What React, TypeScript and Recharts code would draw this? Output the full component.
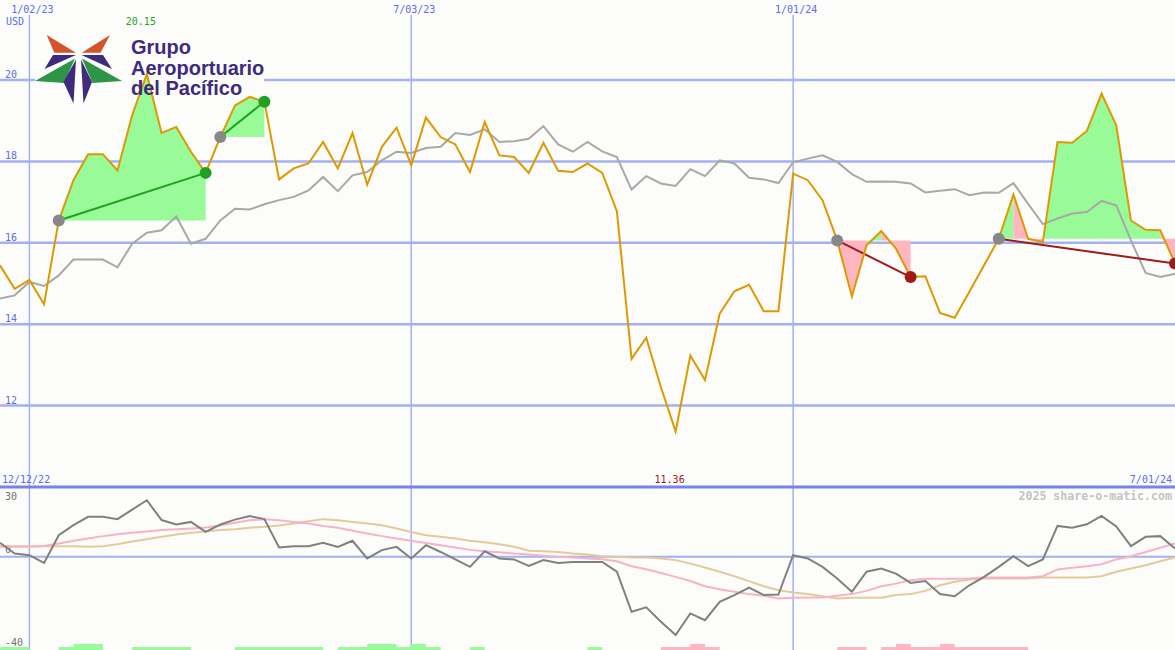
import React from 'react';
import {
  ComposedChart,
  Line,
  Area,
  XAxis,
  YAxis,
  ReferenceLine,
  ReferenceDot,
} from 'recharts';

// ---------------- data ----------------
const xTickIdx = [2, 28, 54];
const xTickLabels = ['1/02/23', '7/03/23', '1/01/24'];
const priceTicks = [12, 14, 16, 18, 20];
const subTicks = [-40, 0, 30];
const rangeStartLabel = '12/12/22';
const rangeEndLabel = '7/01/24';
const currencyLabel = 'USD';
const companyName = ['Grupo', 'Aeroportuario', 'del Pacífico'];
const copyright = '2025 share-o-matic.com';

// weekly closing price (orange)
const price = [
  15.45, 14.87, 15.09, 14.49, 16.55, 17.54, 18.18, 18.18, 17.78, 19.14,
  20.15, 18.7, 18.85, 18.24, 17.72, 18.6, 19.38, 19.59, 19.47, 17.56,
  17.83, 17.95, 18.48, 17.83, 18.7, 17.43, 18.36, 18.83, 17.91, 19.08,
  18.6, 18.42, 17.74, 18.97, 18.15, 18.11, 17.72, 18.46, 17.77, 17.74,
  17.95, 17.72, 16.78, 13.15, 13.67, 12.45, 11.36, 13.23, 12.63, 14.26,
  14.81, 14.97, 14.32, 14.32, 17.7, 17.54, 17.05, 16.06, 14.68, 15.94,
  16.29, 15.86, 15.16, 15.18, 14.28, 14.16, 14.8, 15.45, 16.1, 17.19,
  16.1, 16.02, 18.48, 18.46, 18.75, 19.67, 18.89, 16.55, 16.32, 16.31,
  15.49,
];

// comparison line (grey)
const refLine = [
  14.63, 14.71, 15.04, 14.94, 15.2, 15.59, 15.59, 15.59, 15.4, 15.98,
  16.25, 16.31, 16.65, 15.98, 16.1, 16.55, 16.84, 16.82, 16.95, 17.05,
  17.13, 17.29, 17.62, 17.27, 17.66, 17.74, 18.03, 18.24, 18.21, 18.33,
  18.36, 18.7, 18.65, 18.79, 18.48, 18.5, 18.56, 18.87, 18.42, 18.24,
  18.48, 18.25, 18.11, 17.31, 17.64, 17.46, 17.4, 17.81, 17.64, 18.03,
  17.95, 17.6, 17.56, 17.47, 17.98, 18.07, 18.15, 17.99, 17.69, 17.5,
  17.51, 17.5, 17.46, 17.24, 17.28, 17.32, 17.17, 17.24, 17.23, 17.47,
  16.96, 16.46, 16.6, 16.72, 16.76, 17.03, 16.92, 16.06, 15.26, 15.16,
  15.24,
];

// lower panel: momentum (dark grey)
const momentum = [
  6.0, 1.4, 0.7, -2.6, 9.3, 13.6, 17.2, 17.2, 16.2, 20.3,
  24.3, 15.8, 13.9, 15.0, 10.7, 13.9, 16.0, 17.5, 16.2, 4.0,
  4.6, 4.6, 6.0, 4.3, 6.9, -0.7, 2.9, 4.3, -0.7, 5.0,
  2.1, -1.1, -4.3, 2.4, -0.7, -1.1, -3.9, -1.4, -2.6, -2.2,
  -2.2, -2.2, -6.4, -23.6, -21.7, -27.9, -33.6, -24.3, -27.2, -19.3,
  -16.4, -13.2, -16.4, -16.2, 0.7, -0.7, -4.3, -9.3, -15.0, -6.4,
  -5.0, -7.2, -11.2, -10.4, -16.0, -16.9, -12.2, -8.6, -4.3, 0.3,
  -4.0, -1.1, 13.3, 12.5, 14.0, 17.6, 13.1, 4.6, 8.6, 8.9,
  3.6,
];

// lower panel: fast average (pink)
const maFast = [
  4.3, 4.3, 4.3, 4.7, 5.7, 6.9, 7.9, 8.9, 9.7, 10.4,
  10.9, 11.5, 11.9, 12.2, 12.6, 13.5, 14.6, 15.7, 16.2, 15.7,
  15.0, 14.3, 13.3, 12.5, 11.2, 10.0, 8.9, 7.9, 6.9, 6.0,
  5.0, 4.0, 3.0, 2.4, 2.0, 1.4, 1.0, 0.5, 0.0, -0.3,
  -0.7, -1.0, -1.9, -4.0, -5.3, -6.9, -8.6, -10.4, -12.6, -13.9,
  -15.0, -16.0, -16.7, -17.9, -17.6, -17.5, -17.5, -16.7, -16.0, -14.6,
  -12.6, -11.5, -10.0, -9.4, -9.4, -9.4, -9.3, -8.9, -8.9, -8.9,
  -8.9, -8.3, -5.4, -4.7, -4.0, -3.2, -1.1, 0.3, 2.1, 3.9,
  5.7,
];

// lower panel: slow average (tan)
const maSlow = [
  4.6, 4.6, 4.6, 4.6, 4.6, 4.6, 4.3, 4.6, 5.4, 6.6,
  7.6, 8.6, 9.6, 10.3, 10.9, 11.5, 11.9, 12.5, 12.9, 13.5,
  14.3, 15.3, 16.2, 15.7, 15.0, 14.3, 13.6, 12.2, 10.7, 9.3,
  8.6, 7.9, 6.9, 6.3, 5.4, 4.3, 2.6, 2.4, 2.1, 1.4,
  1.0, 0.3, 0.0, -0.3, -0.3, -0.7, -1.4, -2.9, -4.6, -6.4,
  -8.3, -10.4, -12.6, -14.3, -15.3, -16.0, -16.9, -17.9, -17.6, -17.6,
  -17.6, -16.4, -16.0, -14.6, -12.2, -10.7, -9.7, -9.3, -9.3, -9.3,
  -9.3, -8.9, -8.9, -8.9, -8.9, -8.3, -6.4, -5.0, -3.6, -1.9,
  -0.3,
];

// bottom strip blocks, one per week (positive = green, negative = pink), in panel units
const barHeights = [
  1.3, 1.3, 0, 0, 1.3, 2.6, 2.6, 0, 0, 1.3,
  1.3, 1.3, 1.3, 0, 0, 0, 1.3, 1.3, 1.3, 1.3,
  1.3, 1.3, 0, 1.3, 1.3, 2.6, 2.6, 1.3, 2.6, 1.3,
  0, 0, 1.3, 0, 0, 0, 0, 0, 0, 0,
  1.3, 0, 0, 0, 0, -1.3, -1.3, -2.6, -1.3, 0,
  0, 0, 0, 0, 0, 0, 0, -1.3, -1.3, 0,
  -1.3, -2.6, -1.3, -1.3, -2.6, -1.3, -1.3, -1.3, -1.3, -1.3,
  0, 0, 0, 0, 0, 0, 0, 0, 0, 0,
  0,
];

// trade signals: start index, end index, direction
const signals = [
  { start: 4, end: 14, up: true },
  { start: 15, end: 18, up: true },
  { start: 57, end: 62, up: false },
  { start: 68, end: 80, up: false },
];

// coloured fill pieces inside each signal
const fillPieces = [
  { signal: 0, from: 4, to: 14, green: true },
  { signal: 1, from: 15, to: 18, green: true },
  { signal: 2, from: 57, to: 59, green: false },
  { signal: 2, from: 59, to: 60, green: true },
  { signal: 2, from: 60, to: 62, green: false },
  { signal: 3, from: 68, to: 69, green: true },
  { signal: 3, from: 69, to: 71, green: false },
  { signal: 3, from: 71, to: 79, green: true },
  { signal: 3, from: 79, to: 80, green: false },
];

// ---------------- styling ----------------
const W = 1175;
const H = 650;
const MAIN_SVG_H = 490;
const SUB_TOP = 487;
const SUB_H = 163;
const MAIN_DOMAIN: [number, number] = [10, 21.6];
const SUB_DOMAIN: [number, number] = [-40, 30];
const X_DOMAIN: [number, number] = [0, 80];
const MAIN_MARGIN = { top: 15, right: 0, bottom: 3, left: 0 };
const SUB_MARGIN = { top: 0, right: 0, bottom: 0, left: 0 };

const BG = '#fcfdfb';
const GRID = '#a4b0f2';
const SEP = '#7484e8';
const AXIS_BLUE = '#5b6bec';
const SUB_LABEL = '#707070';
const MONO = '"DejaVu Sans Mono", "Liberation Mono", monospace';
const ORANGE = '#dd9900';
const GREY = '#a8a8a8';
const FILL_GREEN = '#98fb98';
const FILL_PINK = '#ffb6c1';
const TREND_GREEN = '#22a022';
const TREND_RED = '#a01a1a';
const START_DOT = '#888888';

// ---------------- derived tables ----------------
const mainRows = price.map((p, i) => {
  const row: any = { i, price: p, ref: refLine[i] };
  fillPieces.forEach((f, k) => {
    const base = price[signals[f.signal].start];
    row['f' + k] = i >= f.from && i <= f.to ? [base, p] : null;
  });
  signals.forEach((s, k) => {
    row['t' + k] = i === s.start || i === s.end ? p : null;
  });
  return row;
});

const LOW = SUB_DOMAIN[0];
const subRows = momentum.map((m, i) => {
  const h = barHeights[i];
  return {
    i,
    mom: m,
    fast: maFast[i],
    slow: maSlow[i],
    up: [LOW, LOW + (h > 0 ? h : 0)],
    down: [LOW, LOW + (h < 0 ? -h : 0)],
  };
});

const hiIdx = price.indexOf(Math.max(...price));
const loIdx = price.indexOf(Math.min(...price));

// ---------------- helpers ----------------
const Layer = ({ top, children }: { top: number; children: React.ReactNode }) => (
  <div style={{ position: 'absolute', left: 0, top, width: W }}>{children}</div>
);

const vbTop = (vb: any) => {
  const y = vb && typeof vb.y === 'number' ? vb.y : 0;
  const h = vb && typeof vb.height === 'number' ? vb.height : 0;
  return Math.min(y, y + h);
};
const vbLeft = (vb: any) => {
  const x = vb && typeof vb.x === 'number' ? vb.x : 0;
  const w = vb && typeof vb.width === 'number' ? vb.width : 0;
  return Math.min(x, x + w);
};

const makeDot = (s: { start: number; end: number; up: boolean }) => (props: any) => {
  const { cx, cy, index } = props;
  if (cx == null || cy == null || isNaN(cx) || isNaN(cy)) return <g key={'n' + index} />;
  const fill = index === s.start ? START_DOT : s.up ? TREND_GREEN : TREND_RED;
  return <circle key={'d' + index} cx={cx} cy={cy} r={6} fill={fill} />;
};

const hLabel = (text: string, color: string, dy: number) => (p: any) => (
  <text x={5} y={vbTop(p.viewBox) + dy} fill={color} fontSize={10} fontFamily={MONO}>
    {text}
  </text>
);

const vLabel = (text: string) => (p: any) => (
  <text
    x={vbLeft(p.viewBox) + 3}
    y={vbTop(p.viewBox) - 2}
    textAnchor="middle"
    fill={AXIS_BLUE}
    fontSize={10}
    fontFamily={MONO}
  >
    {text}
  </text>
);

// ---------------- charts ----------------
function MainGrid() {
  return (
    <ComposedChart width={W} height={MAIN_SVG_H} data={mainRows} margin={MAIN_MARGIN}>
      <XAxis dataKey="i" type="number" domain={X_DOMAIN} allowDataOverflow hide />
      <YAxis type="number" domain={MAIN_DOMAIN} allowDataOverflow hide />
      {priceTicks.map((t) => (
        <ReferenceLine
          key={'h' + t}
          y={t}
          stroke={GRID}
          strokeWidth={2.5}
          label={hLabel(String(t), AXIS_BLUE, -2)}
        />
      ))}
      {xTickIdx.map((t, k) => (
        <ReferenceLine
          key={'v' + t}
          x={t}
          stroke={GRID}
          strokeWidth={1.5}
          label={vLabel(xTickLabels[k])}
        />
      ))}
      <ReferenceLine y={MAIN_DOMAIN[0]} stroke={SEP} strokeWidth={3} />
      <Line dataKey="price" stroke="none" dot={false} isAnimationActive={false} />
    </ComposedChart>
  );
}

function SubGrid() {
  return (
    <ComposedChart width={W} height={SUB_H} data={subRows} margin={SUB_MARGIN}>
      <XAxis dataKey="i" type="number" domain={X_DOMAIN} allowDataOverflow hide />
      <YAxis type="number" domain={SUB_DOMAIN} allowDataOverflow hide />
      {subTicks.map((t) => (
        <ReferenceLine
          key={'sh' + t}
          y={t}
          stroke={t === 0 ? GRID : 'none'}
          strokeWidth={2}
          label={hLabel(String(t), SUB_LABEL, t === SUB_DOMAIN[1] ? 13 : -4)}
        />
      ))}
      {xTickIdx.map((t) => (
        <ReferenceLine key={'sv' + t} x={t} stroke={GRID} strokeWidth={1.5} />
      ))}
      <Line dataKey="mom" stroke="none" dot={false} isAnimationActive={false} />
    </ComposedChart>
  );
}

function MainData() {
  return (
    <ComposedChart width={W} height={MAIN_SVG_H} data={mainRows} margin={MAIN_MARGIN}>
      <XAxis dataKey="i" type="number" domain={X_DOMAIN} allowDataOverflow hide />
      <YAxis type="number" domain={MAIN_DOMAIN} allowDataOverflow hide />
      {fillPieces.map((f, k) => (
        <Area
          key={'f' + k}
          dataKey={'f' + k}
          type="linear"
          stroke="none"
          fill={f.green ? FILL_GREEN : FILL_PINK}
          fillOpacity={1}
          dot={false}
          activeDot={false}
          isAnimationActive={false}
        />
      ))}
      <Line
        dataKey="ref"
        type="linear"
        stroke={GREY}
        strokeWidth={2}
        dot={false}
        activeDot={false}
        isAnimationActive={false}
      />
      {signals.map((s, k) => (
        <Line
          key={'t' + k}
          dataKey={'t' + k}
          type="linear"
          connectNulls
          stroke={s.up ? TREND_GREEN : TREND_RED}
          strokeWidth={2}
          dot={makeDot(s)}
          activeDot={false}
          isAnimationActive={false}
        />
      ))}
      <Line
        dataKey="price"
        type="linear"
        stroke={ORANGE}
        strokeWidth={2}
        dot={false}
        activeDot={false}
        isAnimationActive={false}
      />
      <ReferenceDot
        x={hiIdx}
        y={MAIN_DOMAIN[1]}
        r={1}
        fill="none"
        stroke="none"
        label={(p: any) => {
          const vb = p.viewBox || {};
          const cx = (vb.x || 0) + (vb.width || 0) / 2;
          const cy = (vb.y || 0) + (vb.height || 0) / 2;
          return (
            <text x={cx - 6} y={cy + 10} textAnchor="middle" fill={TREND_GREEN} fontSize={10} fontFamily={MONO}>
              {price[hiIdx].toFixed(2)}
            </text>
          );
        }}
      />
      <ReferenceDot
        x={loIdx}
        y={MAIN_DOMAIN[0]}
        r={1}
        fill="none"
        stroke="none"
        label={(p: any) => {
          const vb = p.viewBox || {};
          const cx = (vb.x || 0) + (vb.width || 0) / 2;
          const cy = (vb.y || 0) + (vb.height || 0) / 2;
          return (
            <text x={cx - 6} y={cy - 4} textAnchor="middle" fill={TREND_RED} fontSize={10} fontFamily={MONO}>
              {price[loIdx].toFixed(2)}
            </text>
          );
        }}
      />
    </ComposedChart>
  );
}

function SubData() {
  return (
    <ComposedChart width={W} height={SUB_H} data={subRows} margin={SUB_MARGIN}>
      <XAxis dataKey="i" type="number" domain={X_DOMAIN} allowDataOverflow hide />
      <YAxis type="number" domain={SUB_DOMAIN} allowDataOverflow hide />
      <Area dataKey="up" type="stepAfter" stroke="none" fill={FILL_GREEN} fillOpacity={1} dot={false} activeDot={false} isAnimationActive={false} />
      <Area dataKey="down" type="stepAfter" stroke="none" fill={FILL_PINK} fillOpacity={1} dot={false} activeDot={false} isAnimationActive={false} />
      <Line dataKey="slow" type="linear" stroke="#e3ca9c" strokeWidth={2} dot={false} activeDot={false} isAnimationActive={false} />
      <Line dataKey="fast" type="linear" stroke="#f8b2c8" strokeWidth={2} dot={false} activeDot={false} isAnimationActive={false} />
      <Line dataKey="mom" type="linear" stroke="#808080" strokeWidth={2} dot={false} activeDot={false} isAnimationActive={false} />
    </ComposedChart>
  );
}

function Logo() {
  return (
    <g>
      <polygon points="46.7,35 76,52.7 54.3,52.7" fill="#d4532b" />
      <polygon points="110,35 81.7,52.7 100.5,52.7" fill="#d4532b" />
      <polygon points="53,55 76,55 44.5,69" fill="#3f2a7c" />
      <polygon points="81.5,55 103,55 112,69" fill="#3f2a7c" />
      <polygon points="75,58.5 35,81 64,83" fill="#2e9447" />
      <polygon points="82,58.5 122,81 92.5,83" fill="#2e9447" />
      <polygon points="76,59.5 63.5,82 73.5,103.5" fill="#3f2a7c" />
      <polygon points="81,59.5 92,82 83.5,103.5" fill="#3f2a7c" />
      {companyName.map((t, k) => (
        <text
          key={t}
          x={131}
          y={54 + k * 20.5}
          fill="#3e2b7e"
          fontSize={20}
          fontWeight="bold"
          fontFamily='"Liberation Sans", Arial, sans-serif'
        >
          {t}
        </text>
      ))}
    </g>
  );
}

export default function App() {
  return (
    <div
      style={{
        position: 'absolute',
        left: 0,
        top: 0,
        width: W,
        height: H,
        background: BG,
        overflow: 'hidden',
      }}
    >
      <Layer top={SUB_TOP}>
        <SubGrid />
      </Layer>
      <Layer top={0}>
        <MainGrid />
      </Layer>
      <svg style={{ position: 'absolute', left: 0, top: 0 }} width={W} height={H}>
        <rect x={35} y={28} width={229} height={78} fill={BG} />
      </svg>
      <Layer top={0}>
        <MainData />
      </Layer>
      <Layer top={SUB_TOP}>
        <SubData />
      </Layer>
      <svg style={{ position: 'absolute', left: 0, top: 0, pointerEvents: 'none' }} width={W} height={H}>
        <Logo />
        <text x={6} y={25} fill={AXIS_BLUE} fontSize={10} fontFamily={MONO}>
          {currencyLabel}
        </text>
        <text x={2} y={483} fill={AXIS_BLUE} fontSize={10} fontFamily={MONO}>
          {rangeStartLabel}
        </text>
        <text x={1172} y={483} textAnchor="end" fill={AXIS_BLUE} fontSize={10} fontFamily={MONO}>
          {rangeEndLabel}
        </text>
        <text
          x={1172}
          y={500}
          textAnchor="end"
          fill="#c4c4c4"
          fontSize={11.6}
          fontWeight="bold"
          fontFamily={MONO}
        >
          {copyright}
        </text>
      </svg>
    </div>
  );
}
